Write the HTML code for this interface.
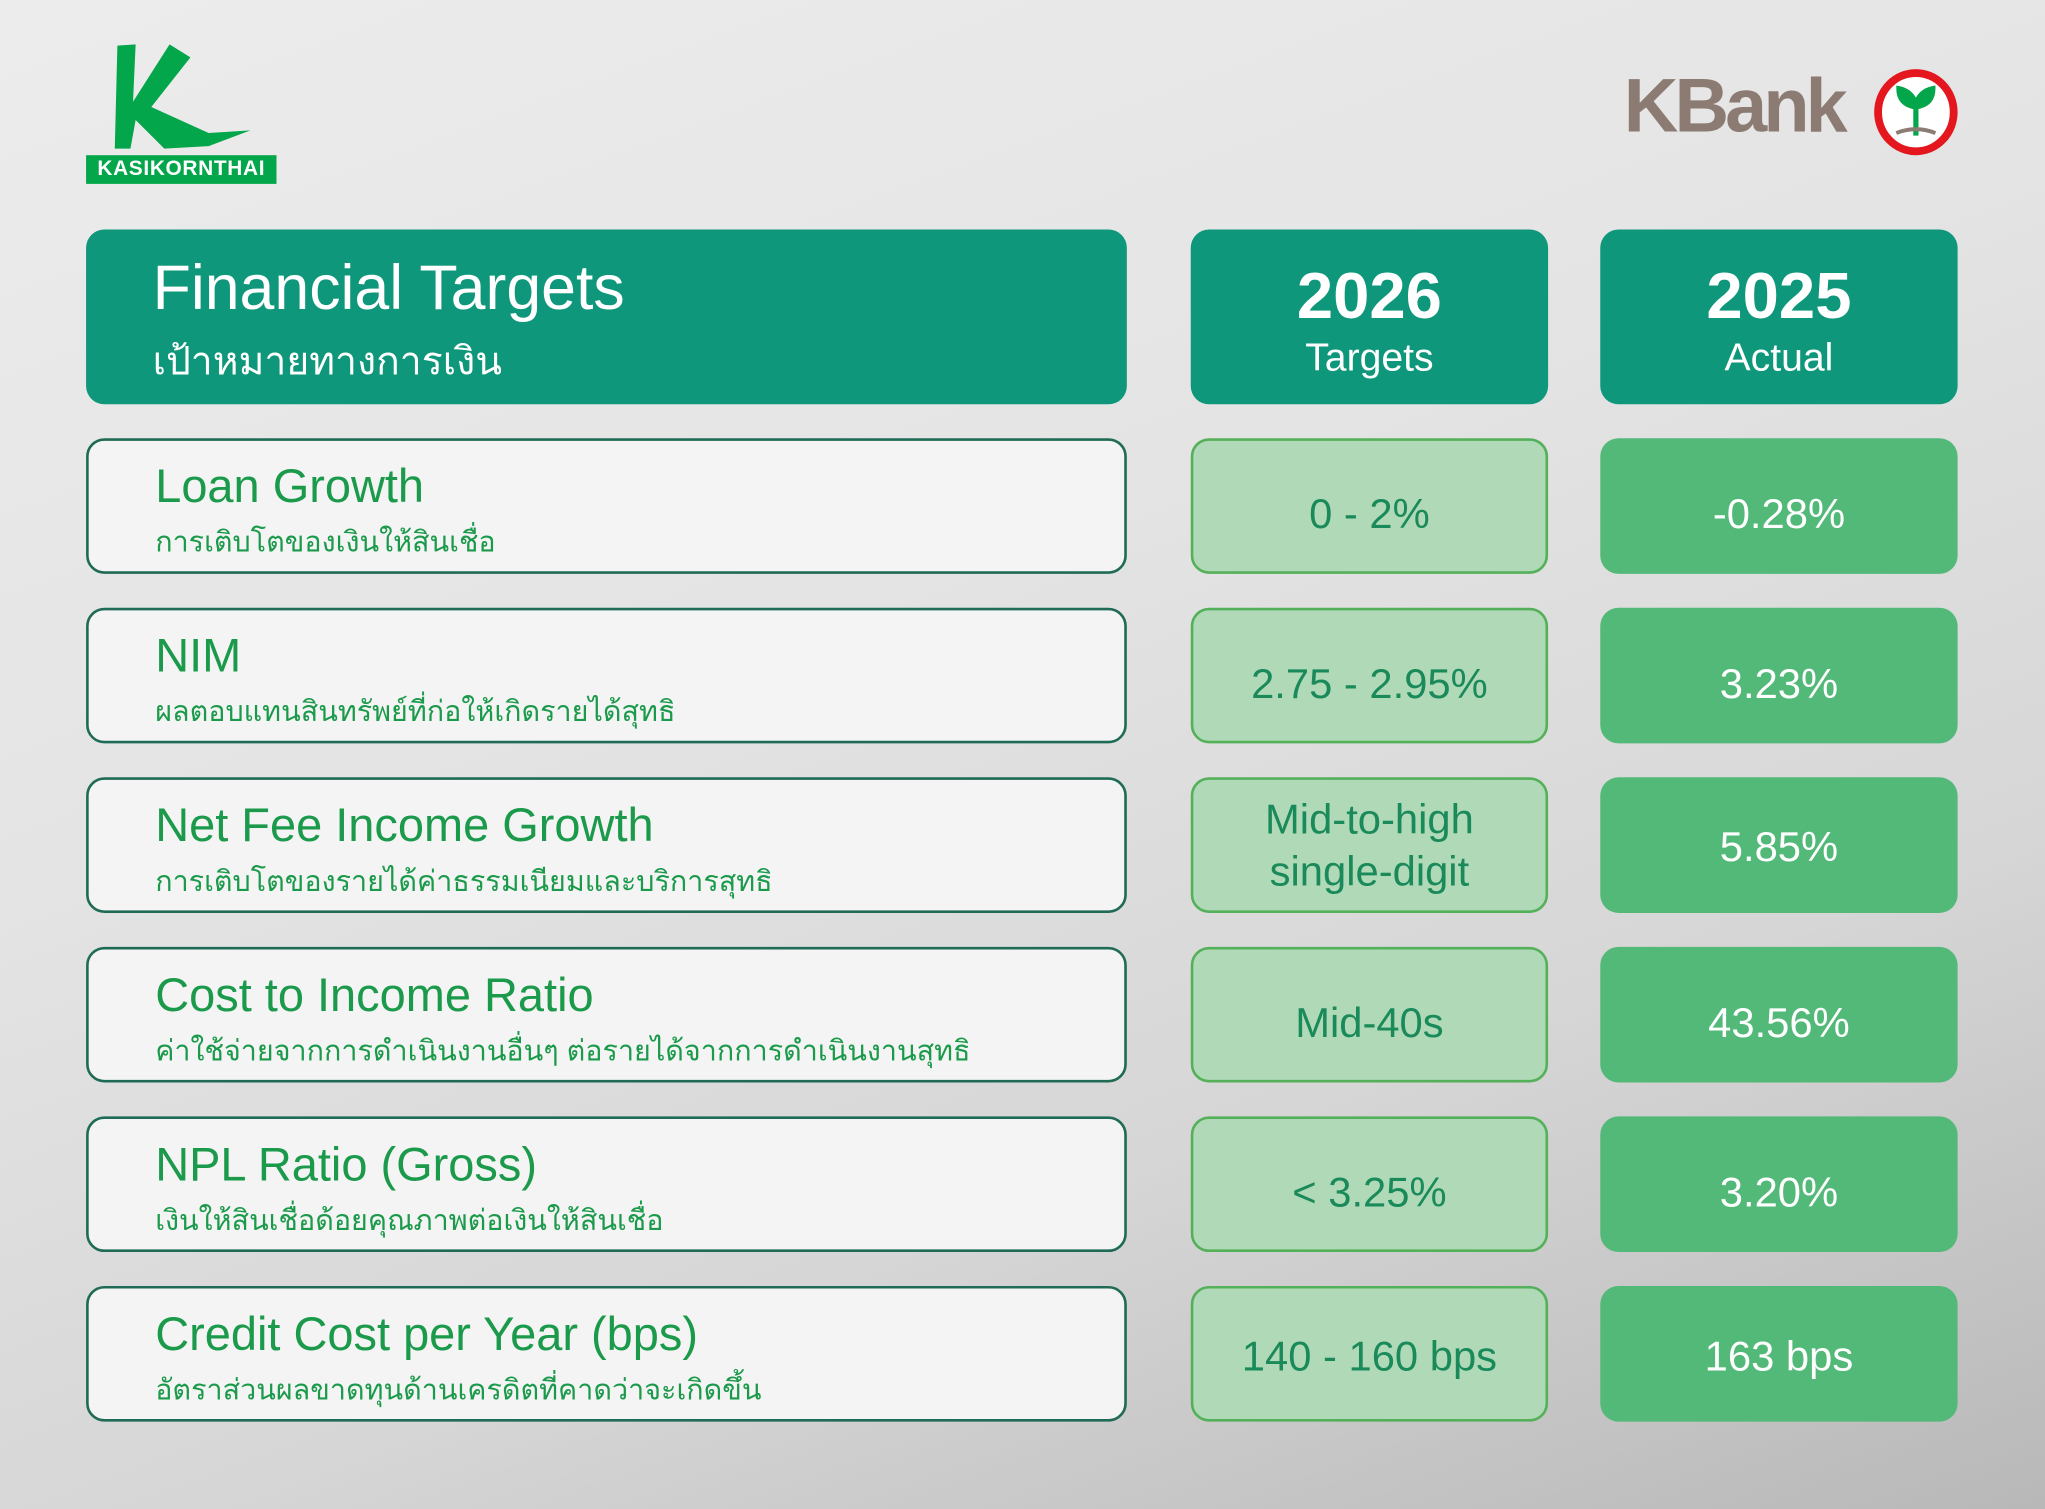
<!DOCTYPE html>
<html><head><meta charset="utf-8"><style>
html,body{margin:0;padding:0;}
body{width:2045px;height:1509px;overflow:hidden;background:linear-gradient(160deg,#ececec 0%,#e4e4e4 40%,#d6d6d6 70%,#b8b8b8 100%);font-family:"Liberation Sans","DejaVu Sans",sans-serif;}
#w{position:absolute;left:0;top:0;width:1568px;height:1157px;transform:scale(1.30421);transform-origin:0 0;}
.b{position:absolute;box-sizing:border-box;border-radius:14px;}
.hd{background:#0e977a;color:#fff;}
.lr{background:#f4f4f4;border:2px solid #1f6b55;}
.tg{background:#b0dab7;border:2px solid #55b05a;color:#1a8a5a;font-size:32px;display:flex;align-items:center;justify-content:center;text-align:center;line-height:40px;padding-top:12px;}
.ac{background:#53b978;color:#fff;font-size:32px;display:flex;align-items:center;justify-content:center;padding-top:12px;}
.t1{position:absolute;left:51px;top:14px;color:#1a9a4a;font-size:36px;white-space:nowrap;}
.t2{position:absolute;left:51px;top:60px;color:#1a9a4a;font-size:22px;white-space:nowrap;}
</style></head><body><div id="w">
<svg style="position:absolute;left:80px;top:30px" width="120" height="90" viewBox="0 0 120 90">
<path d="M10 5 L24 4 L22 48 L50 4 L66 14 L36 52 L80 72 L112 70 L80 82 L46 84 L24 62 L20 84 L8 84 Z" fill="#03a64a"/>
</svg>
<div style="position:absolute;left:66px;top:119px;width:146px;height:22px;background:#03a64a;color:#fff;font-weight:bold;font-size:16px;line-height:22px;text-align:center;letter-spacing:0.5px">KASIKORNTHAI</div>
<div style="position:absolute;left:1245px;top:48px;font-size:58px;font-weight:bold;color:#8c7b72;letter-spacing:-3px">KBank</div>
<svg style="position:absolute;left:1436px;top:52px" width="66" height="68" viewBox="0 0 66 68">
<ellipse cx="33" cy="34" rx="29" ry="30" fill="#fff" stroke="#e4161e" stroke-width="6"/>
<path d="M33 52 L33 28 M33 30 Q20 28 20 16 Q30 18 33 28 Q36 18 46 16 Q46 28 33 30" stroke="#03a64a" stroke-width="4" fill="#03a64a"/>
<path d="M18 50 Q33 44 48 50" stroke="#8c7b72" stroke-width="3" fill="none"/>
</svg>
<div class="b hd" style="left:66px;top:176px;width:798px;height:134px">
<div style="position:absolute;left:51px;top:18px;font-size:48px">Financial Targets</div>
<div style="position:absolute;left:51px;top:78px;font-size:30px">เป้าหมายทางการเงิน</div></div>
<div class="b hd" style="left:913px;top:176px;width:274px;height:134px;text-align:center">
<div style="margin-top:22px;font-size:50px;font-weight:bold">2026</div><div style="font-size:30px;margin-top:2px">Targets</div></div>
<div class="b hd" style="left:1227px;top:176px;width:274px;height:134px;text-align:center">
<div style="margin-top:22px;font-size:50px;font-weight:bold">2025</div><div style="font-size:30px;margin-top:2px">Actual</div></div>

<div class="b lr" style="left:66px;top:336px;width:798px;height:104px"><div class="t1">Loan Growth</div><div class="t2">การเติบโตของเงินให้สินเชื่อ</div></div>
<div class="b tg" style="left:913px;top:336px;width:274px;height:104px">0 - 2%</div>
<div class="b ac" style="left:1227px;top:336px;width:274px;height:104px">-0.28%</div>

<div class="b lr" style="left:66px;top:466px;width:798px;height:104px"><div class="t1">NIM</div><div class="t2">ผลตอบแทนสินทรัพย์ที่ก่อให้เกิดรายได้สุทธิ</div></div>
<div class="b tg" style="left:913px;top:466px;width:274px;height:104px">2.75 - 2.95%</div>
<div class="b ac" style="left:1227px;top:466px;width:274px;height:104px">3.23%</div>

<div class="b lr" style="left:66px;top:596px;width:798px;height:104px"><div class="t1">Net Fee Income Growth</div><div class="t2">การเติบโตของรายได้ค่าธรรมเนียมและบริการสุทธิ</div></div>
<div class="b tg" style="left:913px;top:596px;width:274px;height:104px;padding-top:0">Mid-to-high<br>single-digit</div>
<div class="b ac" style="left:1227px;top:596px;width:274px;height:104px;padding-top:2px">5.85%</div>

<div class="b lr" style="left:66px;top:726px;width:798px;height:104px"><div class="t1">Cost to Income Ratio</div><div class="t2">ค่าใช้จ่ายจากการดำเนินงานอื่นๆ ต่อรายได้จากการดำเนินงานสุทธิ</div></div>
<div class="b tg" style="left:913px;top:726px;width:274px;height:104px">Mid-40s</div>
<div class="b ac" style="left:1227px;top:726px;width:274px;height:104px">43.56%</div>

<div class="b lr" style="left:66px;top:856px;width:798px;height:104px"><div class="t1">NPL Ratio (Gross)</div><div class="t2">เงินให้สินเชื่อด้อยคุณภาพต่อเงินให้สินเชื่อ</div></div>
<div class="b tg" style="left:913px;top:856px;width:274px;height:104px">&lt; 3.25%</div>
<div class="b ac" style="left:1227px;top:856px;width:274px;height:104px">3.20%</div>

<div class="b lr" style="left:66px;top:986px;width:798px;height:104px"><div class="t1">Credit Cost per Year (bps)</div><div class="t2">อัตราส่วนผลขาดทุนด้านเครดิตที่คาดว่าจะเกิดขึ้น</div></div>
<div class="b tg" style="left:913px;top:986px;width:274px;height:104px;padding-top:4px">140 - 160 bps</div>
<div class="b ac" style="left:1227px;top:986px;width:274px;height:104px;padding-top:4px">163 bps</div>
</div></body></html>
